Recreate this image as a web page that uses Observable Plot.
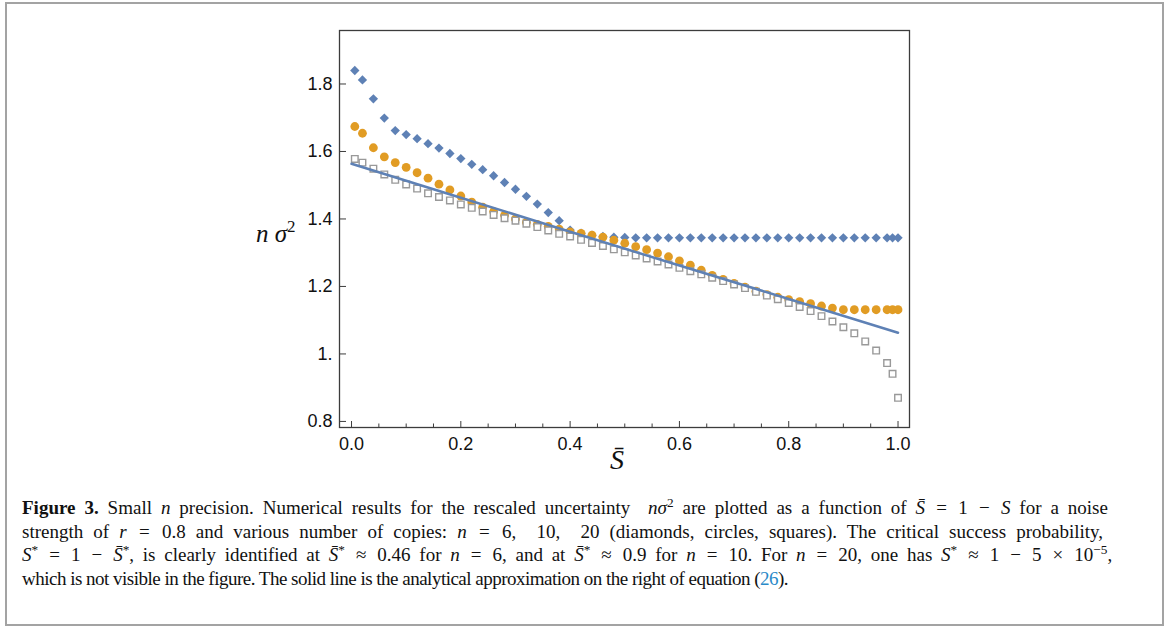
<!DOCTYPE html>
<html>
<head>
<meta charset="utf-8">
<script src="https://cdn.jsdelivr.net/npm/d3@7"></script>
<script src="https://cdn.jsdelivr.net/npm/@observablehq/plot@0.6"></script>
<style>
  body { margin: 0; background: #fff; }
  #wrap { position: relative; width: 1168px; height: 626px; overflow: hidden; }
  #border { position: absolute; left: 5px; top: 2px; width: 1155px; height: 620px; border: 2px solid #a3a3a3; }
  #chart { position: absolute; left: 0; top: 0; }
  .math { font-family: "Liberation Serif", "Times New Roman", serif; font-style: italic; color: #111; }
  #ylab { position: absolute; left: 256px; top: 220px; font-size: 25px; white-space: nowrap; }
  #ylab sup { font-style: normal; font-size: 0.68em; vertical-align: 0.6em; line-height: 0; }
  #xlab { position: absolute; left: 610px; top: 444px; font-size: 28px; white-space: nowrap; }
  #caption { position: absolute; left: 22px; top: 496px; font-family: "Liberation Serif", "Times New Roman", serif; font-size: 17px; line-height: 23.5px; color: #111; }
  #caption .ln { white-space: nowrap; height: 23.5px; }
  #caption sup { font-size: 0.7em; vertical-align: 0.5em; line-height: 0; }
  #caption .op { padding: 0 0.12em; }
  .ref { color: #2a8ac8; }
</style>
</head>
<body>
<div id="wrap">
  <div id="border"></div>
  <div id="chart"></div>
  <div id="ylab" class="math">n&nbsp;σ<sup>2</sup></div>
  <div id="xlab" class="math">S&#772;</div>
  <div id="caption">
    <div class="ln" data-w="1086"><b>Figure 3.</b> Small <i>n</i> precision. Numerical results for the rescaled uncertainty &nbsp;<i>nσ</i><sup>2</sup> are plotted as a function of <i>S&#772;</i> <span class="op">=</span> 1 <span class="op">−</span> <i>S</i> for a noise</div>
    <div class="ln" data-w="1081">strength of <i>r</i> <span class="op">=</span> 0.8 and various number of copies: <i>n</i> <span class="op">=</span> 6,&nbsp; 10,&nbsp; 20 (diamonds, circles, squares). The critical success probability,</div>
    <div class="ln" data-w="1090"><i>S</i><sup>*</sup> <span class="op">=</span> 1 <span class="op">−</span> <i>S&#772;</i><sup>*</sup>, is clearly identified at <i>S&#772;</i><sup>*</sup> <span class="op">≈</span> 0.46 for <i>n</i> <span class="op">=</span> 6, and at <i>S&#772;</i><sup>*</sup> <span class="op">≈</span> 0.9 for <i>n</i> <span class="op">=</span> 10. For <i>n</i> <span class="op">=</span> 20, one has <i>S</i><sup>*</sup> <span class="op">≈</span> 1 <span class="op">−</span> 5 <span class="op">×</span> 10<sup>−5</sup>,</div>
    <div class="ln" data-w="766">which is not visible in the figure. The solid line is the analytical approximation on the right of equation (<span class="ref">26</span>).</div>
  </div>
</div>
<script>
// Sample points of S-bar (shared by all three series)
const sBar = [0.006, 0.02, 0.04, 0.06, 0.08, 0.10, 0.12, 0.14, 0.16, 0.18,
  0.20, 0.22, 0.24, 0.26, 0.28, 0.30, 0.32, 0.34, 0.36, 0.38,
  0.40, 0.42, 0.44, 0.46, 0.48, 0.50, 0.52, 0.54, 0.56, 0.58,
  0.60, 0.62, 0.64, 0.66, 0.68, 0.70, 0.72, 0.74, 0.76, 0.78,
  0.80, 0.82, 0.84, 0.86, 0.88, 0.90, 0.92, 0.94, 0.96, 0.98, 0.99, 1.0];

// n = 6 (diamonds)
const n6 = [1.840, 1.812, 1.756, 1.699, 1.662, 1.650, 1.638, 1.623, 1.610, 1.594,
  1.579, 1.562, 1.546, 1.528, 1.508, 1.488, 1.467, 1.444, 1.419, 1.395,
  1.367, 1.358, 1.352, 1.348, 1.346, 1.345, 1.344, 1.344, 1.344, 1.344,
  1.344, 1.344, 1.344, 1.344, 1.344, 1.344, 1.344, 1.344, 1.344, 1.344,
  1.344, 1.344, 1.344, 1.344, 1.344, 1.344, 1.344, 1.344, 1.344, 1.344, 1.344, 1.344];

// n = 10 (circles)
const n10 = [1.674, 1.654, 1.611, 1.584, 1.567, 1.553, 1.537, 1.521, 1.503, 1.486,
  1.468, 1.450, 1.435, 1.422, 1.411, 1.400, 1.390, 1.384, 1.378, 1.370,
  1.362, 1.357, 1.352, 1.346, 1.337, 1.328, 1.318, 1.309, 1.299, 1.288,
  1.276, 1.263, 1.248, 1.233, 1.221, 1.209, 1.198, 1.186, 1.176, 1.168,
  1.161, 1.155, 1.149, 1.142, 1.136, 1.131, 1.131, 1.131, 1.131, 1.131, 1.131, 1.131];

// n = 20 (squares)
const n20 = [1.578, 1.567, 1.549, 1.532, 1.516, 1.502, 1.490, 1.476, 1.465, 1.455,
  1.443, 1.433, 1.422, 1.412, 1.402, 1.395, 1.386, 1.376, 1.366, 1.356,
  1.348, 1.338, 1.329, 1.320, 1.310, 1.301, 1.292, 1.283, 1.274, 1.265,
  1.255, 1.245, 1.236, 1.226, 1.216, 1.206, 1.195, 1.184, 1.173, 1.162,
  1.151, 1.139, 1.127, 1.112, 1.096, 1.079, 1.061, 1.037, 1.010, 0.973, 0.941, 0.870];

// Analytical approximation (solid line)
const approxS = [0.0, 0.2, 0.4, 0.6, 0.8, 1.0];
const approxV = [1.5636, 1.463, 1.362, 1.262, 1.163, 1.0628];

// Ticks
const xMajor = [0, 0.2, 0.4, 0.6, 0.8, 1.0];
const xMajorLabels = ["0.0", "0.2", "0.4", "0.6", "0.8", "1.0"];
const xMinor = [0.05, 0.1, 0.15, 0.25, 0.3, 0.35, 0.45, 0.5, 0.55, 0.65, 0.7, 0.75, 0.85, 0.9, 0.95];
const yMajor = [0.8, 1.0, 1.2, 1.4, 1.6, 1.8];
const yMajorLabels = ["0.8", "1.", "1.2", "1.4", "1.6", "1.8"];

const blue = "#5e81b5", orange = "#e19c24", gray = "#999999", axisColor = "#3c3c3c";

const W = 1168, H = 490;
const mL = 339, mR = 259, mT = 30, mB = 63;
const plotW = W - mL - mR, plotH = H - mT - mB;

const d6 = sBar.map((s, i) => ({s, v: n6[i]}));
const d10 = sBar.map((s, i) => ({s, v: n10[i]}));
const d20 = sBar.map((s, i) => ({s, v: n20[i]}));
const dLine = approxS.map((s, i) => ({s, v: approxV[i]}));
const xLab = new Map(xMajor.map((d, i) => [d, xMajorLabels[i]]));
const yLab = new Map(yMajor.map((d, i) => [d, yMajorLabels[i]]));

const chart = Plot.plot({
  width: W, height: H,
  marginLeft: mL, marginRight: mR, marginTop: mT, marginBottom: mB,
  x: {domain: [-0.022, 1.021]},
  y: {domain: [0.782, 1.9585]},
  style: {fontFamily: "'Liberation Sans', Arial, sans-serif", fontSize: "18px", color: "#111", background: "transparent", overflow: "visible"},
  marks: [
    Plot.tickX(xMajor, {x: d => d, insetTop: plotH - 6, stroke: axisColor, strokeWidth: 1}),
    Plot.tickX(xMinor, {x: d => d, insetTop: plotH - 3.5, stroke: axisColor, strokeWidth: 1}),
    Plot.tickY(yMajor, {y: d => d, insetRight: plotW - 7, stroke: axisColor, strokeWidth: 1}),
    Plot.axisX(xMajor, {tickSize: 0, tickPadding: 10, tickFormat: d => xLab.get(d), label: null}),
    Plot.axisY(yMajor, {tickSize: 0, tickPadding: 7, tickFormat: d => yLab.get(d), label: null}),
    Plot.dot(d6, {x: "s", y: "v", symbol: "diamond2", r: 4.2, fill: blue, stroke: "none"}),
    Plot.dot(d10, {x: "s", y: "v", symbol: "circle", r: 4.4, fill: orange, stroke: "none"}),
    Plot.dot(d20, {x: "s", y: "v", symbol: "square", r: 3.7, fill: "white", stroke: gray, strokeWidth: 1.4}),
    Plot.line(dLine, {x: "s", y: "v", stroke: blue, strokeWidth: 2.5}),
    Plot.frame({stroke: axisColor, strokeWidth: 1.3})
  ]
});
document.getElementById("chart").appendChild(chart);

// fit caption: common font size from total width, then per-line spacing tweak (ragged right as in the original)
const cap = document.getElementById("caption");
const lines = [...cap.querySelectorAll(".ln")];
function natural(el) {
  el.style.display = "inline-block";
  el.style.wordSpacing = "0px";
  el.style.letterSpacing = "0px";
  const w = el.getBoundingClientRect().width;
  el.style.display = "block";
  return w;
}
const tgt = lines.map(el => +el.dataset.w);
const nat = lines.map(natural);
const fs = Math.max(15, Math.min(19, 17 * d3.sum(tgt) / d3.sum(nat)));
cap.style.fontSize = fs.toFixed(2) + "px";
lines.forEach((el, i) => {
  const w = natural(el);
  const delta = tgt[i] - w;
  if (delta >= 0) {
    const spaces = (el.textContent.match(/[ \u00a0]/g) || []).length;
    if (spaces > 0) el.style.wordSpacing = (delta / spaces).toFixed(2) + "px";
  } else {
    const chars = el.textContent.trim().length;
    el.style.letterSpacing = (delta / chars).toFixed(3) + "px";
  }
});
</script>
</body>
</html>
